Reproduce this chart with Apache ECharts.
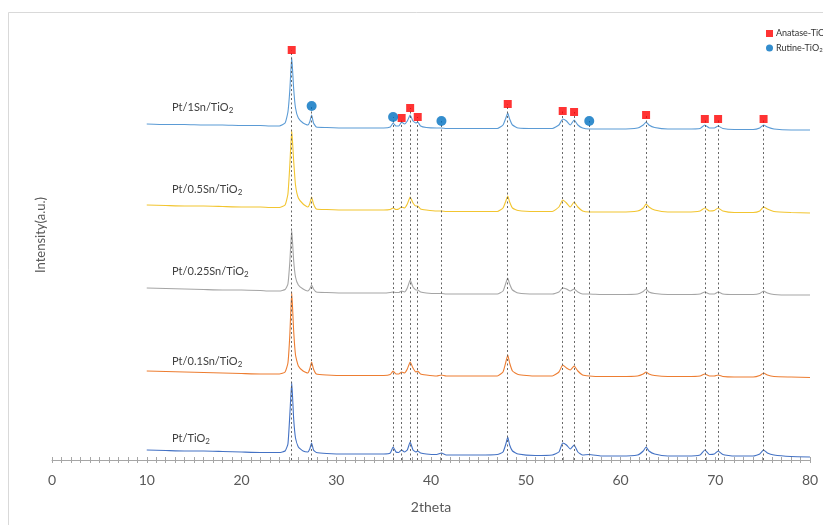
<!DOCTYPE html>
<html>
<head>
<meta charset="utf-8">
<script src="https://cdn.jsdelivr.net/npm/echarts@6/dist/echarts.min.js"></script>
<style>
html,body{margin:0;padding:0;background:#fff;}
#chart{width:823px;height:525px;}
</style>
</head>
<body>
<div id="chart"></div>
<script>
// ---- data ----
const twoTheta = [10,12,14,16,18,20,22,23,24,24.6,24.9,25.1,25.3,25.5,25.7,26.0,26.5,27.0,27.2,27.4,27.6,27.9,29,31,33,35,35.7,36.0,36.3,36.6,36.9,37.2,37.5,37.8,38.1,38.4,38.6,38.9,39.5,40.6,41.1,41.6,43,45,47,47.6,47.9,48.1,48.3,48.6,49.2,51,52.8,53.5,53.9,54.3,54.7,55.1,55.5,56,56.7,58,60,61.8,62.4,62.7,63.0,63.6,65,67,68.4,68.9,69.4,69.9,70.3,70.8,72,74,74.7,75.1,75.5,76.2,78,80];

const ptTiO2 = [10,9.5,9,9,8.5,8,7.5,7.5,7.5,9,16,45,78,42,22,13,9,8,11,17,10,7.5,6.5,6,6,6,7,13,8,7.5,10,8,10,18,10,8,9,7,6,5.5,7,5,5,5,5.5,8,16,23,15,9,6,4.5,5,8,17,15,11,15,8,5,5.5,4,4,5,9,13,9,6,4,4,5,10,5.5,6,9,5.5,4,4,6,10,7,5,3.5,3];

const pt01Sn = [89,88.5,88,87.5,87,86.5,86,86,86,88,97,125,168,130,105,94,89,87,91,98,91,86,85,84.5,84.5,84.5,85.5,89,86,86,88,87,91,98,92,88,89,86,85,84,85,84,84,84,84,88,98,105,97,89,85.5,84,84,88,95,92,90,94,89,85,84,83.5,83.5,84,86,88,86,84.5,83.5,83.5,84,86,84,84,85,83.5,83,83,84.5,87,85,83.5,83,82.5];

const pt025Sn = [172,171.5,171,170.5,170,170,169.5,169,169,170.5,176,198,230,200,183,175,171,169,171,175,171,168,167.5,167,167,167,167.5,168,167.5,167.5,169,168,172,180,173,170,170,168,167,166.5,166.5,166,166,166,166,169,177,182,176,170,167,166,166,168,172,171,169,171,168,166,166,165.5,165.5,166,168.5,171,168,166.5,165.5,165.5,166,168,166,166,168,166,165.5,165.5,166.5,169,167,165.5,165,165];

const pt05Sn = [255,254.5,254,254,253.5,253,253,252.5,252.5,255,266,295,330,300,275,262,256,253,256,263,256,251,250.5,250,250,250,250.5,252,250.5,251,253,252,256,263,257,254,254,251,250,249,249,248.5,248.5,248.5,248.5,252,259,264,258,252,249.5,248.5,248.5,253,260,257,253,258,253,249,248,248,248,249,252,256,253,250,248,248,249,252,249,249.5,252,249,247.5,247.5,249,253,251,248.5,247.5,247];

const pt1Sn = [336,335.5,335.5,335,335,334.5,334.5,334,334,337,348,370,403,372,352,342,337,335,338,345,337,333,332.5,332,332,332,333,337,334,334,338,336,339,345,339,337,338,334,332.5,332,332,331.5,331.5,331.5,331.5,335,342,347,341,335,332,331.5,331.5,335,341,339,335,340,335,332,331,331,331,332,335,338,335,332.5,331,331,331.5,335,332,332,334,331.5,330.5,330.5,332,335,333,331,330,330];

const anataseX = [25.3,36.9,37.8,38.6,48.1,53.9,55.1,62.7,68.9,70.3,75.1];
const anataseY = [410,342,352,343,356,349,348,345,341,341,341];
const rutileX = [27.4,36.0,41.1,56.7];
const rutileY = [354,343,339,339];

const seriesNames = ['Pt/TiO2','Pt/0.1Sn/TiO2','Pt/0.25Sn/TiO2','Pt/0.5Sn/TiO2','Pt/1Sn/TiO2'];
const seriesLabelPrefix = ['Pt/TiO','Pt/0.1Sn/TiO','Pt/0.25Sn/TiO','Pt/0.5Sn/TiO','Pt/1Sn/TiO'];
const legendNames = ['Anatase-TiO2','Rutine-TiO2'];
const xTickLabels = [0,10,20,30,40,50,60,70,80];

// ---- build ----
const seriesData = [ptTiO2, pt01Sn, pt025Sn, pt05Sn, pt1Sn];
const colors = ['#4472c4','#ed7d31','#a5a5a5','#f2c530','#5b9bd5'];
const labelY = [438, 361, 271, 189, 107];
const FONT = 'Lato, "Open Sans", sans-serif';

const chart = echarts.init(document.getElementById('chart'), null, {renderer:'canvas'});

const lineSeries = seriesData.map((arr, k) => ({
  name: seriesNames[k],
  type: 'line',
  xAxisIndex: 0,
  data: twoTheta.map((x, i) => [x, arr[i]]),
  showSymbol: false,
  symbol: 'none',
  smooth: 0.15,
  lineStyle: {color: colors[k], width: 1.1},
  z: 2,
  silent: true
}));

const dashLines = [];
anataseX.forEach((x, i) => dashLines.push([{coord:[x, 0]}, {coord:[x, anataseY[i]]}]));
rutileX.forEach((x, i) => dashLines.push([{coord:[x, 0]}, {coord:[x, rutileY[i]]}]));

const option = {
  animation: false,
  backgroundColor: '#fff',
  grid: {left: 52, right: 13, top: 10, bottom: 65, containLabel: false},
  legend: {
    orient: 'vertical',
    left: 761,
    top: 24,
    itemWidth: 7,
    itemHeight: 7,
    itemGap: 5,
    data: [{name: legendNames[0], icon: 'rect'}, {name: legendNames[1], icon: 'circle'}],
    formatter: function (n) { return '{a|' + n.slice(0, -1) + '}{s|2}'; },
    textStyle: {
      color: '#333', fontFamily: FONT, fontSize: 9, padding: [0,0,0,-2],
      rich: {a: {fontSize: 9, fontFamily: FONT, color: '#333'}, s: {fontSize: 6, fontFamily: FONT, color: '#333', verticalAlign: 'bottom', padding: [4,0,0,0]}}
    }
  },
  xAxis: [{
    type: 'value', min: 0, max: 80, interval: 1, position: 'bottom',
    name: '2theta', nameLocation: 'middle', nameGap: 40,
    nameTextStyle: {color: '#595959', fontSize: 14, fontFamily: FONT},
    axisLine: {show: true, onZero: false, lineStyle: {color: '#a6a6a6', width: 1}},
    axisTick: {show: true, inside: false, length: 3, lineStyle: {color: '#a6a6a6'}},
    axisLabel: {
      color: '#595959', fontSize: 14, fontFamily: FONT, margin: 13,
      formatter: function (v) { return xTickLabels.indexOf(v) >= 0 ? String(v) : ''; }
    },
    splitLine: {show: false}
  }, {
    type: 'value', min: 0, max: 80, interval: 1, position: 'bottom', offset: 0,
    axisLine: {show: false},
    axisTick: {show: true, inside: true, length: 3, lineStyle: {color: '#a6a6a6'}},
    axisLabel: {show: false},
    splitLine: {show: false}
  }],
  yAxis: {
    type: 'value', min: 0, max: 450,
    name: 'Intensity(a.u.)', nameLocation: 'middle', nameGap: 5, nameRotate: 90,
    nameTextStyle: {color: '#595959', fontSize: 13, fontFamily: FONT},
    axisLine: {show: false}, axisTick: {show: false}, axisLabel: {show: false}, splitLine: {show: false}
  },
  series: lineSeries.concat([
    {
      name: legendNames[0], type: 'scatter', symbol: 'rect', symbolSize: 8,
      itemStyle: {color: '#ff0000'},
      data: anataseX.map((x, i) => [x, anataseY[i]]),
      z: 5, silent: true,
      markLine: {
        silent: true, symbol: ['none','none'], label: {show: false},
        lineStyle: {color: '#555', type: [2,2.5], width: 1, opacity: 0.9},
        data: dashLines
      }
    },
    {
      name: legendNames[1], type: 'scatter', symbol: 'circle', symbolSize: 10,
      itemStyle: {color: '#0070c0'},
      data: rutileX.map((x, i) => [x, rutileY[i]]),
      z: 5, silent: true
    }
  ]),
  graphic: [
    {type: 'rect', silent: true, z: -1, shape: {x: 8.5, y: 12.5, width: 840, height: 540},
     style: {fill: 'none', stroke: '#d9d9d9', lineWidth: 1}}
  ].concat(seriesLabelPrefix.map((p, k) => ({
    type: 'text', silent: true, x: 172, y: labelY[k],
    style: {
      text: '{a|' + p + '}{s|2}',
      verticalAlign: 'middle',
      rich: {
        a: {fontSize: 11, fontFamily: FONT, fill: '#404040', color: '#404040'},
        s: {fontSize: 8, fontFamily: FONT, fill: '#404040', color: '#404040', padding: [6,0,0,0]}
      }
    }
  })))
};
chart.setOption(option);
</script>
</body>
</html>
